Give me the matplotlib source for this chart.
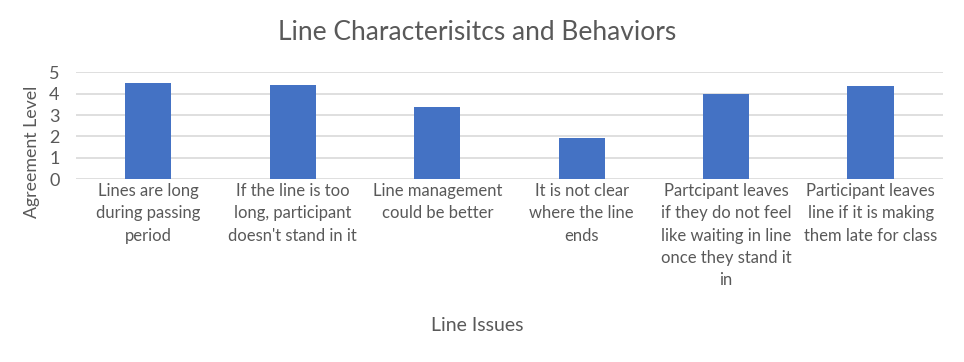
import matplotlib.pyplot as plt

plt.rcParams['font.family'] = ['Lato', 'DejaVu Sans']

# Data
issues = [
    "Lines are long\nduring passing\nperiod",
    "If the line is too\nlong, participant\ndoesn't stand in it",
    "Line management\ncould be better",
    "It is not clear\nwhere the line\nends",
    "Partcipant leaves\nif they do not feel\nlike waiting in line\nonce they stand it\nin",
    "Participant leaves\nline if it is making\nthem late for class",
]
agreement = [4.52, 4.39, 3.38, 1.91, 4.01, 4.38]

text_color = '#595959'

fig = plt.figure(figsize=(9.64, 3.62), dpi=100)
ax = fig.add_axes([0.079, 0.505, 0.899, 0.295])

x = range(len(issues))
ax.bar(x, agreement, width=0.32, color='#4472C4', zorder=3)

ax.set_xlim(-0.5, len(issues) - 0.5)
ax.set_ylim(0, 5)
ax.set_yticks([0, 1, 2, 3, 4, 5])
ax.set_xticks(list(x))
ax.set_xticklabels(issues, fontsize=12, color=text_color, linespacing=1.47, va='top')
ax.tick_params(axis='y', labelsize=13, colors=text_color, length=0, pad=12)
ax.tick_params(axis='x', length=0, pad=3)
ax.grid(axis='y', color='#D9D9D9', linewidth=1.2, zorder=0)
for s in ['top', 'right', 'left', 'bottom']:
    ax.spines[s].set_visible(False)

ax.set_ylabel('Agreement Level', fontsize=12.8, color=text_color)
ax.yaxis.set_label_coords(-0.042, 0.255)
fig.text(0.495, 0.1, 'Line Issues', ha='center', va='center', fontsize=14, color=text_color)
fig.text(0.495, 0.91, 'Line Characterisitcs and Behaviors', ha='center', va='center',
         fontsize=19, color=text_color)

fig.savefig('out.png', dpi=100)
